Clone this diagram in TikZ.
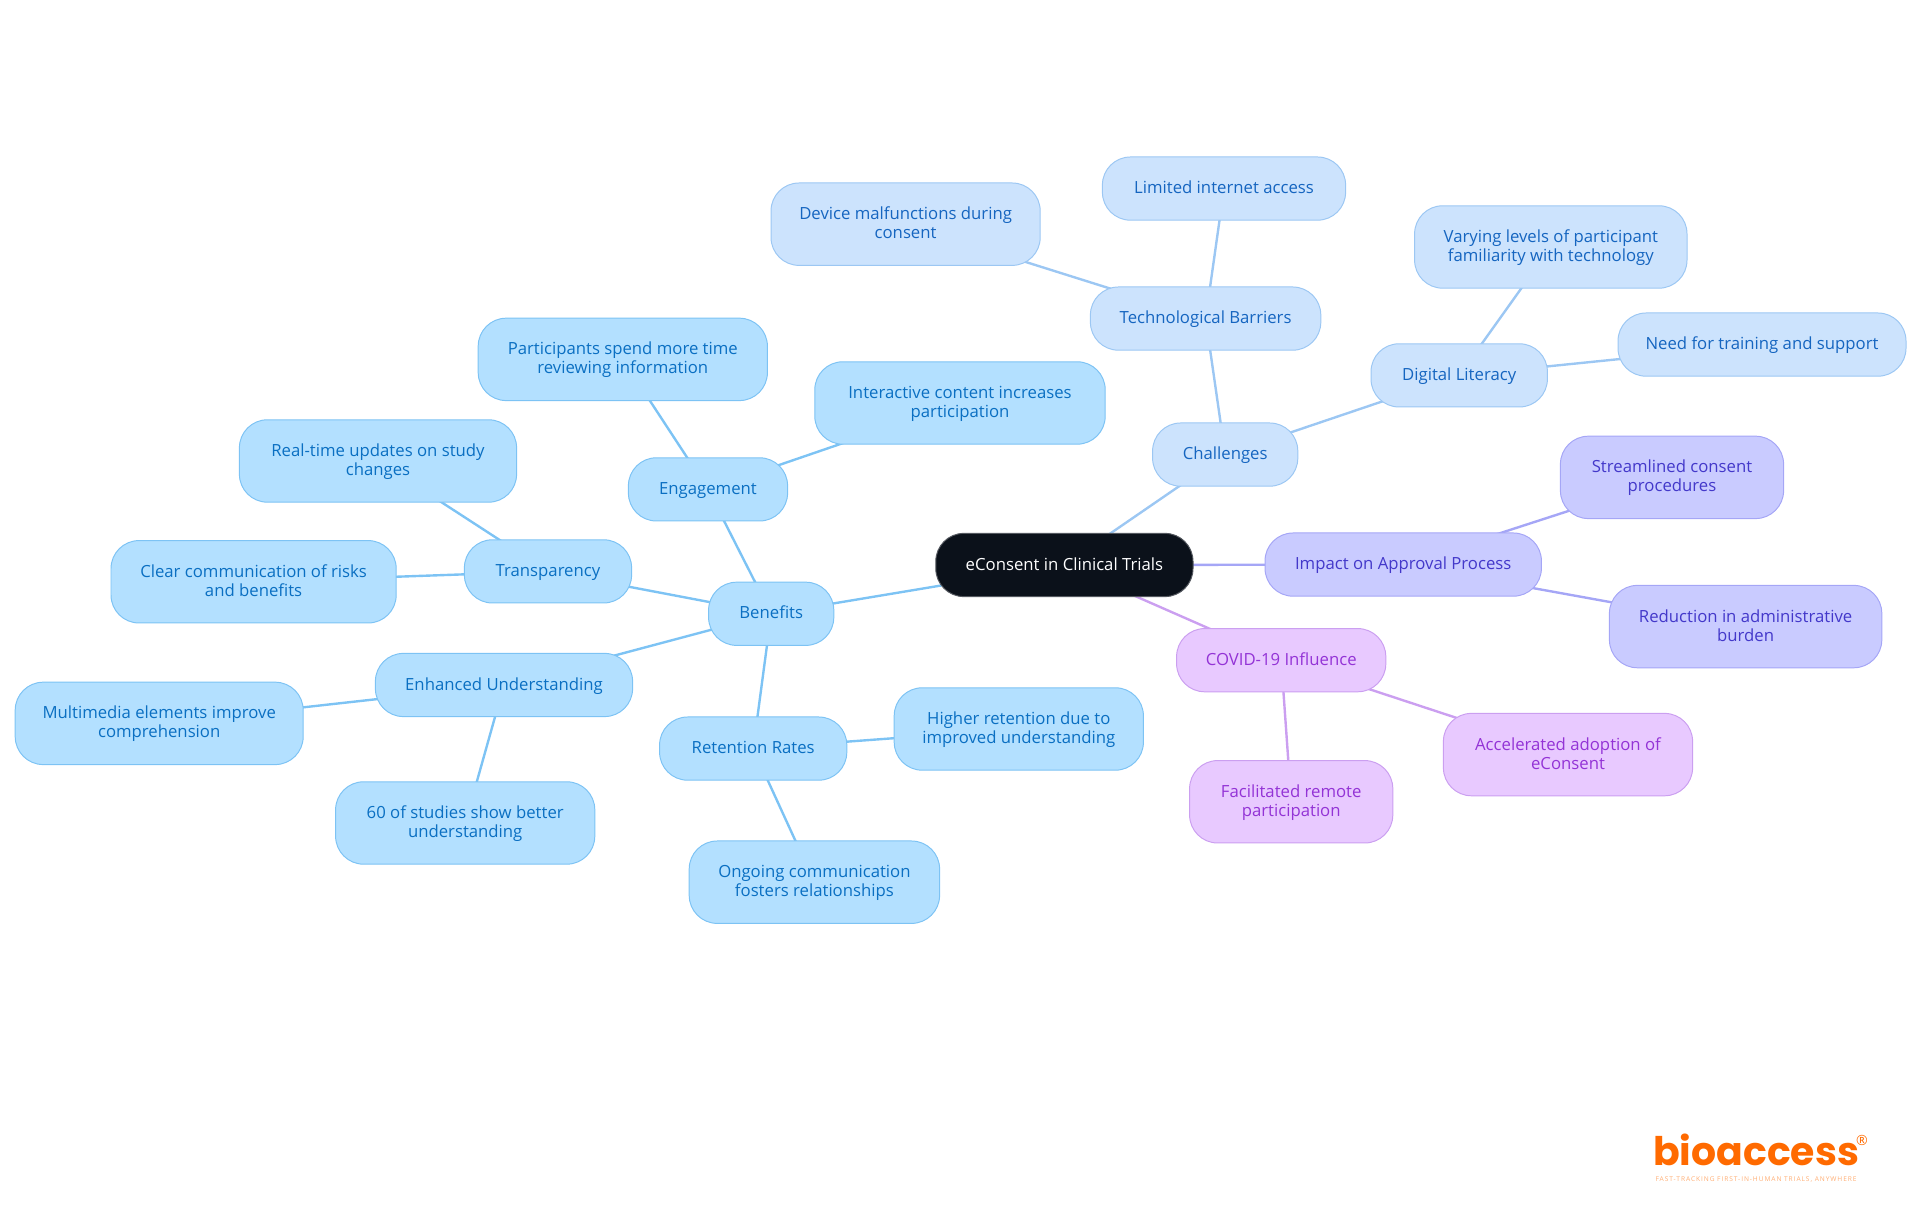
\documentclass[tikz,border=0pt]{standalone}
\usepackage{fontspec}
\setmainfont{Open Sans}
\newfontfamily\logofont{Poppins}
\newfontfamily\tagfont[LetterSpace=14]{Open Sans}
\usetikzlibrary{backgrounds}
\definecolor{benefitfill}{HTML}{B3E0FF}
\definecolor{benefitline}{HTML}{7DC3F4}
\definecolor{benefittext}{HTML}{0A6FC2}
\definecolor{challengefill}{HTML}{CCE3FD}
\definecolor{challengeline}{HTML}{9CC7F3}
\definecolor{challengetext}{HTML}{1565C0}
\definecolor{impactfill}{HTML}{C9CBFF}
\definecolor{impactline}{HTML}{A5A6F6}
\definecolor{impacttext}{HTML}{4338CA}
\definecolor{covidfill}{HTML}{E8C9FF}
\definecolor{covidline}{HTML}{CB9FF0}
\definecolor{covidtext}{HTML}{9333D6}
\definecolor{rootfill}{HTML}{0B111A}
\definecolor{logoorange}{HTML}{FF6A00}
\tikzset{
    mapnode/.style={draw, line width=0.7pt, rounded corners=0.7cm, align=center,
        minimum height=1.58cm, inner sep=0pt, text depth=1.8pt, font=\fontsize{11.9}{13.5}\selectfont},
    tall/.style={minimum height=2.06cm},
    benefit/.style={mapnode, fill=benefitfill, draw=benefitline, text=benefittext},
    challenge/.style={mapnode, fill=challengefill, draw=challengeline, text=challengetext},
    impact/.style={mapnode, fill=impactfill, draw=impactline, text=impacttext},
    covid/.style={mapnode, fill=covidfill, draw=covidline, text=covidtext},
    benefitlink/.style={draw=benefitline, line width=1.7pt},
    challengelink/.style={draw=challengeline, line width=1.7pt},
    impactlink/.style={draw=impactline, line width=1.7pt},
    covidlink/.style={draw=covidline, line width=1.7pt}
}

\begin{document}
\begin{tikzpicture}
    \useasboundingbox (0,0) rectangle (48,30.375);

    \node[mapnode, fill=rootfill, draw=rootfill!70!white, text=white, minimum width=6.43cm] (Root) at (26.61,16.25) {eConsent in Clinical Trials};

    \node[benefit, minimum width=3.13cm] (Benefits) at (19.28,15.03) {Benefits};
    \node[benefit, minimum width=3.98cm] (Engagement) at (17.70,18.14) {Engagement};
    \node[benefit, minimum width=4.18cm] (Transparency) at (13.70,16.09) {Transparency};
    \node[benefit, minimum width=6.43cm] (Understanding) at (12.60,13.25) {Enhanced Understanding};
    \node[benefit, minimum width=4.68cm] (Retention) at (18.83,11.66) {Retention Rates};

    \node[benefit, tall, minimum width=7.23cm] (Participants) at (15.57,21.39) {Participants spend more time\\reviewing information};
    \node[benefit, tall, minimum width=7.26cm] (Interactive) at (24.00,20.30) {Interactive content increases\\participation};
    \node[benefit, tall, minimum width=6.93cm] (Updates) at (9.45,18.85) {Real-time updates on study\\changes};
    \node[benefit, tall, minimum width=7.13cm] (Risks) at (6.34,15.83) {Clear communication of risks\\and benefits};
    \node[benefit, tall, minimum width=7.20cm] (Multimedia) at (3.98,12.29) {Multimedia elements improve\\comprehension};
    \node[benefit, tall, minimum width=6.48cm] (Studies) at (11.63,9.80) {60 of studies show better\\understanding};
    \node[benefit, tall, minimum width=6.23cm] (Higher) at (25.47,12.15) {Higher retention due to\\improved understanding};
    \node[benefit, tall, minimum width=6.26cm] (Ongoing) at (20.36,8.32) {Ongoing communication\\fosters relationships};

    \node[challenge, minimum width=3.63cm] (Challenges) at (30.63,19.01) {Challenges};
    \node[challenge, minimum width=5.76cm] (Barriers) at (30.14,22.41) {Technological Barriers};
    \node[challenge, minimum width=4.41cm] (Literacy) at (36.48,20.99) {Digital Literacy};
    \node[challenge, tall, minimum width=6.73cm] (Device) at (22.64,24.77) {Device malfunctions during\\consent};
    \node[challenge, minimum width=6.08cm] (Internet) at (30.60,25.66) {Limited internet access};
    \node[challenge, tall, minimum width=6.81cm] (Varying) at (38.77,24.20) {Varying levels of participant\\familiarity with technology};
    \node[challenge, minimum width=7.20cm] (Training) at (44.05,21.76) {Need for training and support};

    \node[impact, minimum width=6.91cm] (Impact) at (35.08,16.26) {Impact on Approval Process};
    \node[impact, tall, minimum width=5.58cm] (Streamlined) at (41.80,18.44) {Streamlined consent\\procedures};
    \node[impact, tall, minimum width=6.81cm] (Reduction) at (43.64,14.71) {Reduction in administrative\\burden};

    \node[covid, minimum width=5.23cm] (Covid) at (32.03,13.87) {COVID-19 Influence};
    \node[covid, tall, minimum width=6.23cm] (Accelerated) at (39.20,11.51) {Accelerated adoption of\\eConsent};
    \node[covid, tall, minimum width=5.08cm] (Remote) at (32.28,10.33) {Facilitated remote\\participation};

    \node[text=logoorange, inner sep=0pt, font=\logofont\bfseries\fontsize{28}{28}\selectfont] (Logo) at (43.9,1.62) {bioaccess};
    \node[text=logoorange, inner sep=0pt, font=\fontsize{10}{10}\selectfont] (Mark) at (46.55,1.87) {®};
    \node[text=logoorange!55!white, inner sep=0pt, font=\tagfont\fontsize{4.7}{4.7}\selectfont] (Tagline) at (43.9,0.88) {FAST-TRACKING FIRST-IN-HUMAN TRIALS, ANYWHERE};

    \begin{scope}[on background layer]
        \draw[benefitlink] (Root.center) -- (Benefits.center);
        \draw[benefitlink] (Benefits.center) -- (Engagement.center);
        \draw[benefitlink] (Benefits.center) -- (Transparency.center);
        \draw[benefitlink] (Benefits.center) -- (Understanding.center);
        \draw[benefitlink] (Benefits.center) -- (Retention.center);
        \draw[benefitlink] (Engagement.center) -- (Participants.center);
        \draw[benefitlink] (Engagement.center) -- (Interactive.center);
        \draw[benefitlink] (Transparency.center) -- (Updates.center);
        \draw[benefitlink] (Transparency.center) -- (Risks.center);
        \draw[benefitlink] (Understanding.center) -- (Multimedia.center);
        \draw[benefitlink] (Understanding.center) -- (Studies.center);
        \draw[benefitlink] (Retention.center) -- (Higher.center);
        \draw[benefitlink] (Retention.center) -- (Ongoing.center);

        \draw[challengelink] (Root.center) -- (Challenges.center);
        \draw[challengelink] (Challenges.center) -- (Barriers.center);
        \draw[challengelink] (Challenges.center) -- (Literacy.center);
        \draw[challengelink] (Barriers.center) -- (Device.center);
        \draw[challengelink] (Barriers.center) -- (Internet.center);
        \draw[challengelink] (Literacy.center) -- (Varying.center);
        \draw[challengelink] (Literacy.center) -- (Training.center);

        \draw[impactlink] (Root.center) -- (Impact.center);
        \draw[impactlink] (Impact.center) -- (Streamlined.center);
        \draw[impactlink] (Impact.center) -- (Reduction.center);

        \draw[covidlink] (Root.center) -- (Covid.center);
        \draw[covidlink] (Covid.center) -- (Accelerated.center);
        \draw[covidlink] (Covid.center) -- (Remote.center);
    \end{scope}
\end{tikzpicture}
\end{document}
